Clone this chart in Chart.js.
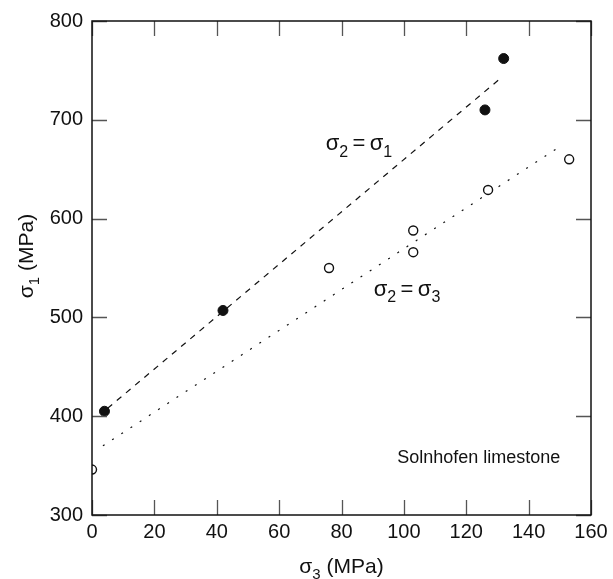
<!DOCTYPE html>
<html>
<head>
<meta charset="utf-8">
<script src="https://cdn.jsdelivr.net/npm/chart.js@4"></script>
<style>
  html, body { margin: 0; padding: 0; background: #fff; }
  #wrap { width: 613px; height: 579px; }
</style>
</head>
<body>
<div id="wrap"><canvas id="myChart" width="613" height="579"></canvas></div>
<script>
// sigma_3 / sigma_1 values (MPa)
var filledX = [4, 42, 126, 132];
var filledY = [405, 507, 710, 762];
var openX = [0, 76, 103, 103, 127, 153];
var openY = [346, 550, 588, 566, 629, 660];

// fitted lines, end points
var upperLineX = [5, 131];
var upperLineY = [408, 742];
var lowerLineX = [3.5, 151];
var lowerLineY = [370, 675];

var xTicks = [0, 20, 40, 60, 80, 100, 120, 140, 160];
var yTicks = [300, 400, 500, 600, 700, 800];

var FONT = '"Liberation Sans", Arial, Helvetica, sans-serif';

function pts(xs, ys) {
    var out = [];
    for (var i = 0; i < xs.length; i++) out.push({x: xs[i], y: ys[i]});
    return out;
}

// draws text made of [string, isSubscript] parts, centred on x
function drawParts(ctx, parts, x, y, size, align) {
    var subSize = Math.round(size * 0.72);
    var w = 0;
    parts.forEach(function(p) {
        ctx.font = (p[1] ? subSize : size) + 'px ' + FONT;
        w += ctx.measureText(p[0]).width;
    });
    var cx = align === 'left' ? x : x - w / 2;
    ctx.textAlign = 'left';
    ctx.textBaseline = 'alphabetic';
    parts.forEach(function(p) {
        ctx.font = (p[1] ? subSize : size) + 'px ' + FONT;
        ctx.fillText(p[0], cx, p[1] ? y + size * 0.28 : y);
        cx += ctx.measureText(p[0]).width;
    });
}

var framePlugin = {
    id: 'frame',
    afterDraw: function(chart) {
        var ctx = chart.ctx;
        var a = chart.chartArea;
        var xs = chart.scales.x, ys = chart.scales.y;
        var tl = 15;
        ctx.save();
        // inward tick marks on all four sides
        ctx.strokeStyle = '#555';
        ctx.lineWidth = 1.3;
        ctx.beginPath();
        xTicks.forEach(function(v) {
            var px = Math.round(xs.getPixelForValue(v)) + 0.5;
            ctx.moveTo(px, a.bottom); ctx.lineTo(px, a.bottom - tl);
            ctx.moveTo(px, a.top); ctx.lineTo(px, a.top + tl);
        });
        yTicks.forEach(function(v) {
            var py = Math.round(ys.getPixelForValue(v)) + 0.5;
            ctx.moveTo(a.left, py); ctx.lineTo(a.left + tl, py);
            ctx.moveTo(a.right, py); ctx.lineTo(a.right - tl, py);
        });
        ctx.stroke();
        ctx.strokeStyle = '#111';
        ctx.lineWidth = 1.5;
        ctx.strokeRect(a.left, a.top, a.right - a.left, a.bottom - a.top);

        ctx.fillStyle = '#111';
        // line labels
        drawParts(ctx, [['σ', false], ['2', true], ['\u2009=\u2009', false], ['σ', false], ['1', true]],
            xs.getPixelForValue(85.6), ys.getPixelForValue(669), 22);
        drawParts(ctx, [['σ', false], ['2', true], ['\u2009=\u2009', false], ['σ', false], ['3', true]],
            xs.getPixelForValue(101), ys.getPixelForValue(522), 22);
        ctx.font = '18px ' + FONT;
        ctx.textAlign = 'center';
        ctx.fillText('Solnhofen limestone', xs.getPixelForValue(124), ys.getPixelForValue(353));

        // axis titles
        drawParts(ctx, [['σ', false], ['3', true], [' (MPa)', false]], (a.left + a.right) / 2, 573, 21);
        ctx.translate(33, 256);
        ctx.rotate(-Math.PI / 2);
        drawParts(ctx, [['σ', false], ['1', true], [' (MPa)', false]], 0, 0, 21);
        ctx.restore();
    }
};

var ctx = document.getElementById('myChart').getContext('2d');
var chart = new Chart(ctx, {
    type: 'scatter',
    data: {
        datasets: [
            {
                label: 'sigma2 = sigma1',
                data: pts(filledX, filledY),
                pointRadius: 5,
                pointBackgroundColor: '#111',
                pointBorderColor: '#111',
                pointBorderWidth: 1,
            },
            {
                label: 'sigma2 = sigma3',
                data: pts(openX, openY),
                pointRadius: 4.5,
                pointBackgroundColor: '#fff',
                pointBorderColor: '#111',
                pointBorderWidth: 1.4,
            },
            {
                label: 'upper fit',
                data: pts(upperLineX, upperLineY),
                showLine: true,
                pointRadius: 0,
                borderColor: '#111',
                borderWidth: 1.2,
                borderDash: [6, 6],
            },
            {
                label: 'lower fit',
                data: pts(lowerLineX, lowerLineY),
                showLine: true,
                pointRadius: 0,
                borderColor: '#111',
                borderWidth: 1.2,
                borderDash: [2, 9],
            },
        ],
    },
    options: {
        responsive: false,
        animation: false,
        layout: { padding: { top: 16, right: 22, left: 0, bottom: 0 } },
        plugins: {
            legend: { display: false },
            tooltip: { enabled: false },
        },
        scales: {
            x: {
                type: 'linear',
                min: 0,
                max: 160,
                grid: { display: false, drawTicks: false },
                border: { display: false },
                afterBuildTicks: function(scale) {
                    scale.ticks = xTicks.map(function(v) { return {value: v}; });
                },
                afterFit: function(scale) { scale.height = 64; },
                ticks: {
                    color: '#111',
                    padding: 5,
                    maxRotation: 0,
                    font: { family: FONT, size: 20 },
                },
            },
            y: {
                type: 'linear',
                min: 300,
                max: 800,
                grid: { display: false, drawTicks: false },
                border: { display: false },
                afterBuildTicks: function(scale) {
                    scale.ticks = yTicks.map(function(v) { return {value: v}; });
                },
                afterFit: function(scale) { scale.width = 92; },
                ticks: {
                    color: '#111',
                    padding: 9,
                    font: { family: FONT, size: 20 },
                },
            },
        },
    },
    plugins: [framePlugin],
});
</script>
</body>
</html>
